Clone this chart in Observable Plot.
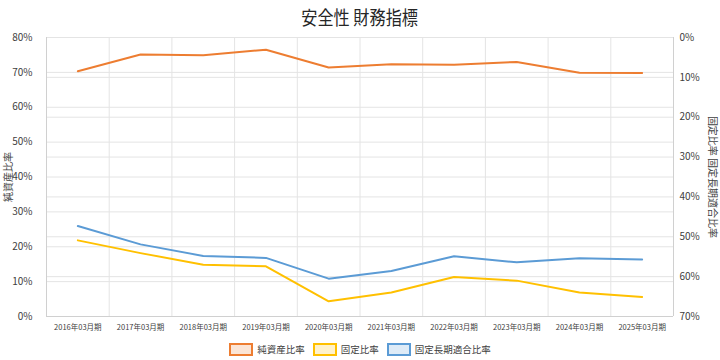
<!DOCTYPE html>
<html><head><meta charset="utf-8">
<script src="https://cdn.jsdelivr.net/npm/d3@7"></script>
<script src="https://cdn.jsdelivr.net/npm/@observablehq/plot@0.6"></script>
<style>
body{margin:0;background:#fff;font-family:"Noto Sans CJK JP","Noto Sans",sans-serif;}
#wrap{width:720px;height:360px;position:relative;overflow:hidden;}
#title{height:30px;line-height:34px;text-align:center;font-size:19px;color:#262626;}
#title span{display:inline-block;transform:scaleX(0.85);}
#legend{position:absolute;top:342px;left:0;width:720px;display:flex;justify-content:center;gap:4px;font-size:9.5px;color:#404040;}
.item{display:flex;align-items:center;gap:4px;margin:0 2px;}
.sw{width:20px;height:9px;border:2px solid;}
</style></head>
<body><div id="wrap"><div id="title"><span>安全性 財務指標</span></div><div id="chart"></div><div id="legend"></div></div>
<script>
const categories = ["2016年03月期","2017年03月期","2018年03月期","2019年03月期","2020年03月期","2021年03月期","2022年03月期","2023年03月期","2024年03月期","2025年03月期"];
const netAssetRatio = [70.3, 75.1, 74.9, 76.5, 71.4, 72.3, 72.2, 73.0, 69.9, 69.8];
const fixedRatio = [50.9, 54.1, 57.0, 57.4, 66.2, 64.0, 60.1, 61.0, 64.0, 65.1];
const fixedLongTermRatio = [47.3, 51.9, 54.8, 55.3, 60.5, 58.6, 54.9, 56.4, 55.4, 55.7];
const leftTicks = [0,10,20,30,40,50,60,70,80];
const rightTicks = [0,10,20,30,40,50,60,70];
const seriesNames = ["純資産比率","固定比率","固定長期適合比率"];
const colors = ["#ED7D31","#FFC000","#5B9BD5"];
const fills = ["#FBE5D6","#FFF2CC","#DEEBF7"];

const toLeft = r => 80 - r * 80 / 70;
const idx = categories.map((_, i) => i);
const innerGrid = idx.slice(1).map(i => i - 0.5);

const chart = Plot.plot({
  width: 720, height: 310,
  marginTop: 7, marginBottom: 24, marginLeft: 46, marginRight: 47,
  style: {fontSize: "10px", fontFamily: "'Noto Sans CJK JP','Noto Sans',sans-serif", color: "#404040"},
  x: {type: "linear", domain: [-0.5, 9.5], axis: null},
  y: {domain: [0, 80], axis: null},
  marks: [
    Plot.ruleY(leftTicks, {stroke: "#e4e4e4"}),
    Plot.ruleY(rightTicks.map(toLeft), {stroke: "#e4e4e4"}),
    Plot.ruleX(innerGrid, {stroke: "#e4e4e4"}),
    Plot.ruleX([-0.5, 9.5], {stroke: "#d0d0d0"}),
    Plot.ruleY([0], {stroke: "#d0d0d0"}),
    Plot.line(idx, {x: i => i, y: i => netAssetRatio[i], stroke: colors[0], strokeWidth: 2}),
    Plot.line(idx, {x: i => i, y: i => toLeft(fixedRatio[i]), stroke: colors[1], strokeWidth: 2}),
    Plot.line(idx, {x: i => i, y: i => toLeft(fixedLongTermRatio[i]), stroke: colors[2], strokeWidth: 2}),
    Plot.axisY({anchor: "left", ticks: leftTicks, tickFormat: d => d + "%", tickSize: 0, tickPadding: 14, label: null, fill: "#404040"}),
    Plot.axisY({anchor: "right", ticks: rightTicks.map(toLeft), tickFormat: d => Math.round((80 - d) * 70 / 80) + "%", tickSize: 0, tickPadding: 6, label: null, fill: "#404040"}),
    Plot.axisX({anchor: "bottom", ticks: idx, tickFormat: i => categories[i], tickSize: 0, tickPadding: 8, fontSize: 7.5, label: null, fill: "#404040"}),
    Plot.text([seriesNames[0]], {frameAnchor: "left", dx: -38, rotate: -90, textAnchor: "middle", fontSize: 10, fill: "#404040"}),
    Plot.text([seriesNames[1] + " " + seriesNames[2]], {frameAnchor: "right", dx: 39, rotate: 90, textAnchor: "middle", fontSize: 10, fill: "#404040"})
  ]
});
document.getElementById("chart").appendChild(chart);

const legend = document.getElementById("legend");
seriesNames.forEach((n, i) => {
  const it = document.createElement("div");
  it.className = "item";
  it.innerHTML = `<span class="sw" style="border-color:${colors[i]};background:${fills[i]}"></span><span>${n}</span>`;
  legend.appendChild(it);
});
</script></body></html>
